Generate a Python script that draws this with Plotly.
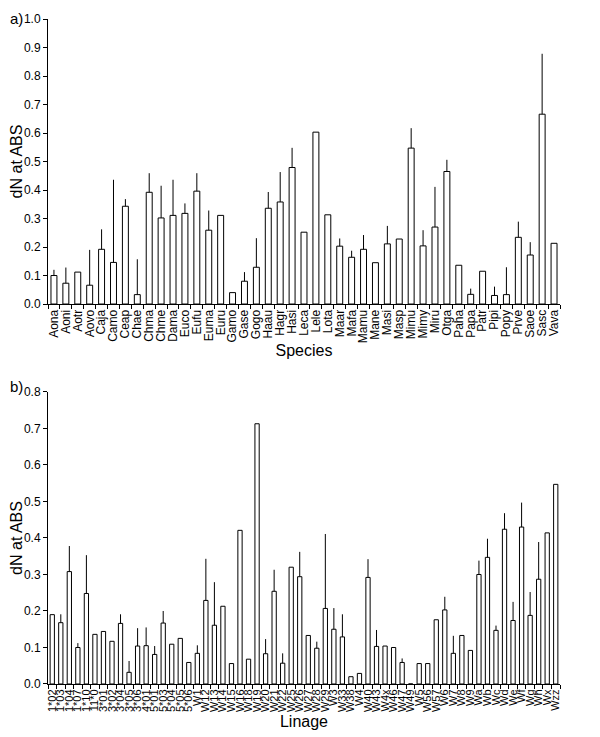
import plotly.graph_objects as go
from plotly.subplots import make_subplots

# panel a) species
species = ["Aona", "Aoni", "Aotr", "Aovo", "Caja", "Camo", "Ceap", "Chae", "Chma", "Chme",
           "Dama", "Euco", "Eufu", "Euma", "Euru", "Gamo", "Gase", "Gogo", "Haau", "Hagr",
           "Hasi", "Leca", "Lele", "Lota", "Maar", "Mafa", "Mamu", "Mane", "Masi", "Masp",
           "Mimu", "Mimy", "Miru", "Otga", "Paha", "Papa", "Patr", "Pipi", "Popy", "Prve",
           "Saoe", "Sasc", "Vava"]
species_dn = [0.10, 0.073, 0.112, 0.066, 0.192, 0.146, 0.343, 0.033, 0.392, 0.302,
              0.311, 0.318, 0.396, 0.259, 0.311, 0.040, 0.080, 0.129, 0.336, 0.358,
              0.479, 0.252, 0.603, 0.313, 0.203, 0.164, 0.192, 0.145, 0.211, 0.228,
              0.547, 0.204, 0.270, 0.465, 0.136, 0.034, 0.115, 0.030, 0.033, 0.234,
              0.172, 0.666, 0.213]
species_err = [0.02, 0.055, 0, 0.124, 0.07, 0.29, 0.025, 0.124, 0.067, 0.113,
               0.125, 0.035, 0.063, 0.069, 0, 0, 0.032, 0.102, 0.057, 0.105,
               0.069, 0, 0, 0, 0.027, 0.023, 0.05, 0, 0.063, 0,
               0.07, 0.055, 0.141, 0.041, 0, 0.02, 0, 0.031, 0.096, 0.055,
               0.045, 0.212, 0]

# panel b) linages
linage = ["1*02", "1*03", "1*04", "1*07", "1*10", "11*0", "3*01", "3*02", "3*04", "3*05",
          "3*06", "4*01", "5*01", "5*03", "5*04", "5*05", "5*06", "W1", "W12", "W13",
          "W14", "W15", "W16", "W18", "W19", "W20", "W21", "W22", "W25", "W26",
          "W27", "W28", "W29", "W3", "W33", "W38", "W4", "W40", "W43", "W4x",
          "W46", "W47", "W49", "W5", "W56", "W57", "W6", "W7", "W8", "W9",
          "Wa", "Wb", "Wc", "Wd", "We", "Wf", "Wg", "Wh", "Wx", "Wzz"]
linage_dn = [0.19, 0.168, 0.308, 0.100, 0.248, 0.136, 0.144, 0.117, 0.166, 0.032,
             0.104, 0.105, 0.081, 0.167, 0.109, 0.125, 0.059, 0.084, 0.229, 0.161,
             0.213, 0.056, 0.421, 0.068, 0.713, 0.083, 0.254, 0.057, 0.320, 0.294,
             0.133, 0.098, 0.207, 0.150, 0.129, 0.020, 0.029, 0.292, 0.103, 0.104,
             0.100, 0.059, 0.0, 0.056, 0.056, 0.176, 0.203, 0.084, 0.133, 0.092,
             0.300, 0.347, 0.147, 0.424, 0.174, 0.430, 0.188, 0.287, 0.414, 0.547]
linage_err = [0, 0.023, 0.07, 0.012, 0.105, 0, 0, 0, 0.025, 0.031,
              0.049, 0.05, 0.023, 0.033, 0, 0, 0, 0.022, 0.114, 0.118,
              0, 0, 0, 0, 0, 0.04, 0.059, 0.027, 0, 0.068,
              0, 0.018, 0.204, 0.058, 0.062, 0, 0, 0.05, 0.045, 0,
              0, 0.011, 0, 0, 0, 0, 0.036, 0.048, 0, 0,
              0.038, 0.051, 0.013, 0.044, 0.051, 0.067, 0.064, 0.102, 0, 0]

FONT = "Liberation Sans, Arial, sans-serif"

fig = make_subplots(rows=2, cols=1, vertical_spacing=0.1323)

def add_panel(cats, vals, errs, row):
    fig.add_trace(go.Bar(
        x=cats, y=vals,
        marker=dict(color="white", line=dict(color="black", width=1)),
        error_y=dict(type="data", symmetric=False, array=errs,
                     arrayminus=[0] * len(errs), color="black",
                     thickness=1, width=0),
        showlegend=False), row=row, col=1)

add_panel(species, species_dn, species_err, 1)
add_panel(linage, linage_dn, linage_err, 2)

axis_common = dict(showline=True, linecolor="black", linewidth=1, ticks="outside",
                   ticklen=4, tickcolor="black", showgrid=False, zeroline=False,
                   automargin=False,
                   tickfont=dict(family=FONT, size=12, color="black"))

fig.update_xaxes(axis_common, tickangle=-90, tickson="boundaries", tickmode="array")
fig.update_xaxes(tickvals=species, row=1, col=1,
                 title=dict(text="Species", font=dict(family=FONT, size=16, color="black"),
                            standoff=2))
fig.update_xaxes(tickvals=linage, row=2, col=1, tickfont=dict(size=11),
                 title=dict(text="Linage", font=dict(family=FONT, size=16, color="black"),
                            standoff=4))

fig.update_yaxes(axis_common, tickformat=".1f")
fig.update_yaxes(range=[0, 1.0], dtick=0.1, row=1, col=1,
                 title=dict(text="dN at ABS", font=dict(family=FONT, size=16, color="black"),
                            standoff=2))
fig.update_yaxes(range=[0, 0.8], dtick=0.1, row=2, col=1,
                 title=dict(text="dN at ABS", font=dict(family=FONT, size=16, color="black"),
                            standoff=2))

# page body adds 8px, so margins are set 8px smaller on top/left
fig.update_layout(
    width=600, height=737,
    margin=dict(l=40, r=48, t=11, b=61),
    plot_bgcolor="white", paper_bgcolor="white",
    bargap=0.5,
    font=dict(family=FONT, color="black"),
    annotations=[
        dict(text="a)", xref="paper", yref="paper", x=-0.078, y=1.0, yshift=11,
             showarrow=False, xanchor="left", yanchor="top",
             font=dict(family=FONT, size=15, color="black")),
        dict(text="b)", xref="paper", yref="paper", x=-0.078, y=0.4391, yshift=5,
             showarrow=False, xanchor="left", yanchor="middle",
             font=dict(family=FONT, size=15, color="black")),
    ],
)
fig.update_layout(yaxis_domain=[0.5714, 1.0], yaxis2_domain=[0.0, 0.4391])

fig.write_html("out.html")
